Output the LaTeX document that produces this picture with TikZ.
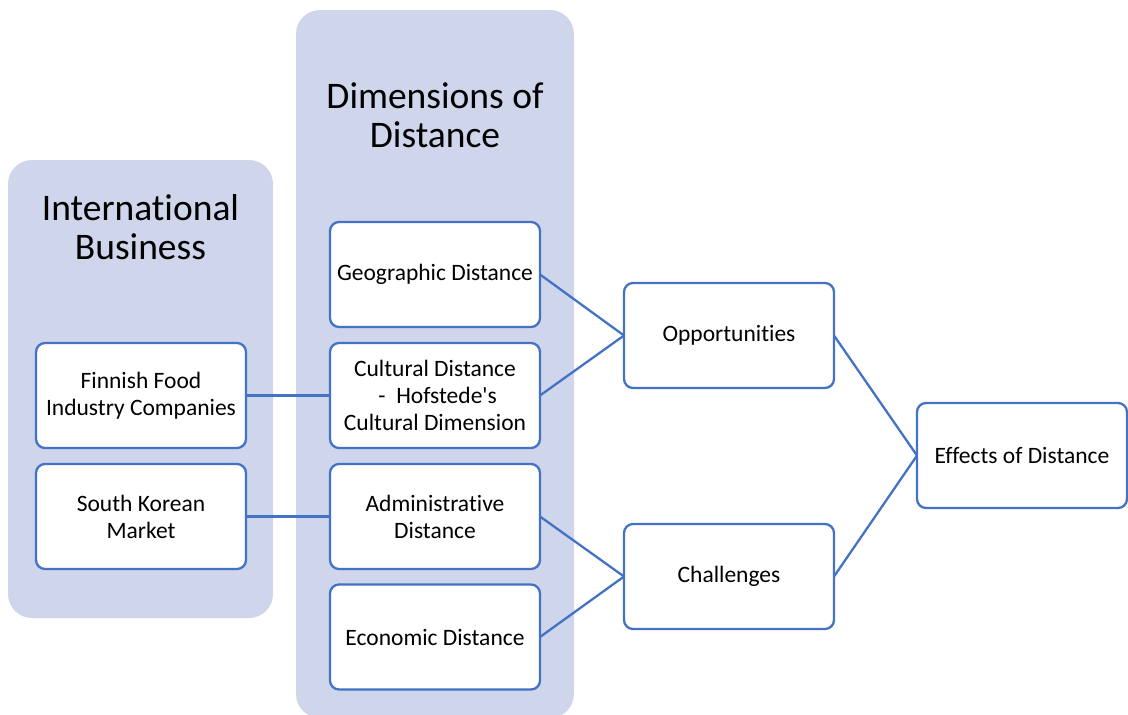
\documentclass[tikz,border=0pt]{standalone}
\usepackage{fontspec}
\setmainfont[Ligatures={NoCommon}]{Carlito}
\begin{document}
\begin{tikzpicture}[x=1pt,y=-1pt,
  panel/.style={fill=panelblue, draw=none, rounded corners=24pt},
  item/.style={draw=lineblue, line width=2.3pt, fill=white, rounded corners=9pt,
    minimum width=210pt, minimum height=105pt, inner sep=0pt, outer sep=0pt,
    align=center, font=\fontsize{23.5}{27}\selectfont},
  heading/.style={align=center, font=\fontsize{37.5}{39}\selectfont},
  link/.style={draw=lineblue, line width=2.3pt}]
\definecolor{panelblue}{HTML}{CFD5EA}
\definecolor{lineblue}{HTML}{4472C4}
\useasboundingbox (0,0) rectangle (1128,715);
\begin{scope}
\clip (0,0) rectangle (1128,715);
% background panels
\path[panel] (8,160) rectangle (273,618);
\path[panel] (296,10) rectangle (574,718);
\end{scope}
% panel headings
\node[heading] (ibtitle) at (140.5,227) {International\\Business};
\node[heading] (ddtitle) at (435,115) {Dimensions of\\Distance};
% boxes
\node[item] (finn) at (141,395.5) {Finnish Food\\Industry Companies};
\node[item] (korea) at (141,516.5) {South Korean\\Market};
\node[item] (geo) at (435,274.5) {Geographic Distance};
\node[item] (cult) at (435,395.5) {Cultural Distance\\\ -\ \ Hofstede\textquotesingle s\\Cultural Dimension};
\node[item] (admin) at (435,516.5) {Administrative\\Distance};
\node[item] (econ) at (435,637) {Economic Distance};
\node[item] (opp) at (729,335.5) {Opportunities};
\node[item] (chal) at (729,576.5) {Challenges};
\node[item] (eff) at (1022,455.5) {Effects of Distance};
% connectors
\draw[link] (finn.east) -- (cult.west);
\draw[link] (korea.east) -- (admin.west);
\draw[link] (geo.east) -- (opp.west);
\draw[link] (cult.east) -- (opp.west);
\draw[link] (admin.east) -- (chal.west);
\draw[link] (econ.east) -- (chal.west);
\draw[link] (opp.east) -- (eff.west);
\draw[link] (chal.east) -- (eff.west);
\end{tikzpicture}
\end{document}
